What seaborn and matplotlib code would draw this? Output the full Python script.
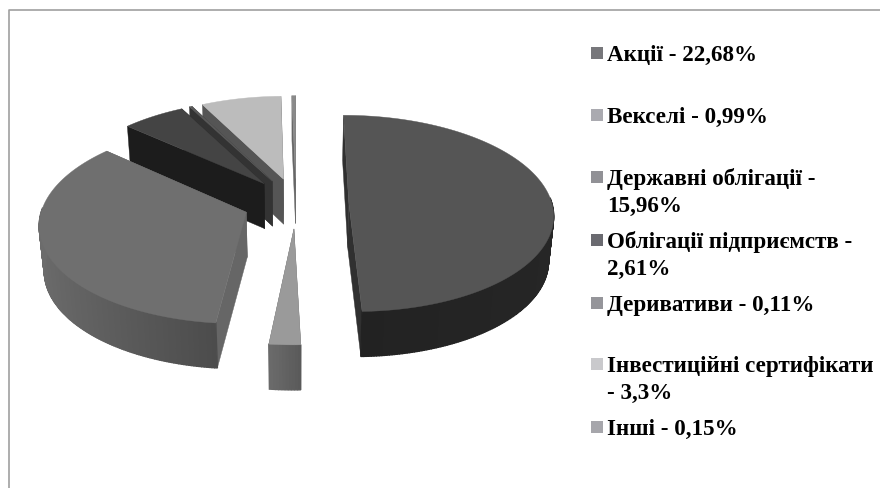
import numpy as np
import matplotlib
matplotlib.use('Agg')
import matplotlib.pyplot as plt
from matplotlib.patches import Rectangle, Polygon
import seaborn as sns

names = ['Акції - 22,68%', 'Векселі - 0,99%', 'Державні облігації -\n15,96%',
         'Облігації підприємств -\n2,61%', 'Деривативи - 0,11%',
         'Інвестиційні сертифікати\n- 3,3%', 'Інші - 0,15%']
values = [22.68, 0.99, 15.96, 2.61, 0.11, 3.3, 0.15]

# greys of each slice: top, outer side left end, outer side right end, cut faces
top_cols = ['#555555', '#9a9a9a', '#6f6f6f', '#444444', '#5a5a5a', '#bcbcbc', '#8a8a8a']
side_a = ['#222222', '#6c6c6c', '#6c6c6c', '#1c1c1c', '#333333', '#4c4c4c', '#555555']
side_b = ['#262626', '#5a5a5a', '#4c4c4c', '#1c1c1c', '#333333', '#4c4c4c', '#555555']
cut_cols = ['#303030', '#5e5e5e', '#666666', '#1c1c1c', '#333333', '#555555', '#666666']
legend_cols = ['#77777b', '#aaaab0', '#919196', '#6a6a70', '#95959a', '#c9c9cc', '#a6a6ab']
legend_y = [53, 115, 177, 240, 303, 364, 427]

# 3d view of the pie, pixels
X0, Y0 = 296, 203
R, A = 203, 97
P = 0.11
EXPL = 0.26
DEPTH = 45


def project(x, y, z=0.0):
    w = 1 / (1 + P * y)
    sx = X0 + R * x * w * (1 - 0.02 * z)
    sy = Y0 - A * y * w + DEPTH * z
    return sx, sy


sns.set_theme(style='white')
plt.rcParams['font.family'] = ['Liberation Serif', 'DejaVu Serif']

fig = plt.figure(figsize=(8.8, 4.88), dpi=100)
ax = fig.add_axes([0, 0, 1, 1])
ax.set_xlim(0, 880)
ax.set_ylim(488, 0)
ax.axis('off')

# only the top and left edges of the chart frame are in the picture
ax.plot([8.5, 8.5, 880], [488, 9.5, 9.5], color='#a0a0a0', lw=1.2)

edges = np.cumsum([0] + values) / sum(values) * 360
slices = []
for i in range(len(values)):
    a0, a1 = np.radians(edges[i]), np.radians(edges[i + 1])
    mid = (a0 + a1) / 2
    ox, oy = EXPL * np.sin(mid), EXPL * np.cos(mid)
    slices.append((oy, i, a0, a1, ox))

# painter's order, back slices first
for oy, i, a0, a1, ox in sorted(slices, key=lambda s: -s[0]):
    t = np.linspace(a0, a1, max(3, int(np.degrees(a1 - a0) * 1.5)))
    xs = ox + np.sin(t)
    ys = oy + np.cos(t)

    # cut faces from the centre to the rim
    for k in [0, -1]:
        face = [project(ox, oy), project(xs[k], ys[k]),
                project(xs[k], ys[k], 1), project(ox, oy, 1)]
        ax.add_patch(Polygon(face, fc=cut_cols[i], ec=cut_cols[i], lw=0.3))

    # rim, split in strips to get the shading
    lo = min(range(len(t)), key=lambda k: xs[k])
    hi = max(range(len(t)), key=lambda k: xs[k])
    c0 = np.array(matplotlib.colors.to_rgb(side_a[i]))
    c1 = np.array(matplotlib.colors.to_rgb(side_b[i]))
    for k in range(len(t) - 1):
        if np.cos(t[k]) + np.cos(t[k + 1]) > 0.1:
            continue
        f = (xs[k] - xs[lo]) / max(xs[hi] - xs[lo], 1e-6)
        col = c0 + (c1 - c0) * f
        strip = [project(xs[k], ys[k]), project(xs[k + 1], ys[k + 1]),
                 project(xs[k + 1], ys[k + 1], 1), project(xs[k], ys[k], 1)]
        ax.add_patch(Polygon(strip, fc=col, ec=col, lw=1.0))

    top = [project(ox, oy)] + [project(a, b) for a, b in zip(xs, ys)]
    ax.add_patch(Polygon(top, fc=top_cols[i], ec=top_cols[i], lw=0.3))

for name, y, col in zip(names, legend_y, legend_cols):
    ax.add_patch(Rectangle((591, y - 6), 12, 12, fc=col, ec='none'))
    for j, line in enumerate(name.split('\n')):
        ax.text(607, y + 8 + 27 * j, line, fontsize=16.6, fontweight='bold',
                color='#000000', va='baseline', ha='left')

fig.savefig('out.png', dpi=100)
